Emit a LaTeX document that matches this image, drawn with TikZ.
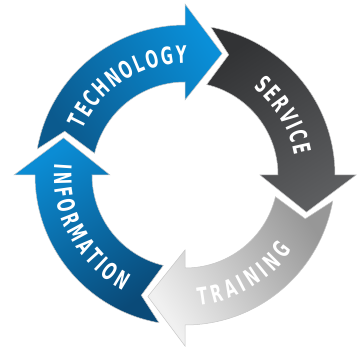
\documentclass[tikz,border=0pt]{standalone}
\usepackage{fontspec}
\usepackage{tikz}
\usetikzlibrary{decorations.text}
\newfontfamily\cyclefont{DejaVu Sans}[FakeStretch=0.62]

\definecolor{techtail}{HTML}{0B5A8E}
\definecolor{techhead}{HTML}{0A8FD8}
\definecolor{servtail}{HTML}{323335}
\definecolor{servhead}{HTML}{5C5D5F}
\definecolor{traintail}{HTML}{979797}
\definecolor{trainhead}{HTML}{F0F0F0}
\definecolor{infotail}{HTML}{0A4A78}
\definecolor{infohead}{HTML}{0B8CD4}

\begin{document}
\begin{tikzpicture}[
    cycle arrow/.style={draw=black!22, line width=0.5pt},
    arc label/.style={decorate, decoration={text along path, text color=white, text align={fit to path},
        text={|\cyclefont\bfseries\fontsize{24}{24}\selectfont|#1}}}
]

% --- PARAMETER ---
\def\Rout{150pt}    % Aussenrand Band
\def\Rin{93pt}      % Innenrand Band
\def\Rhead{171pt}   % Pfeilspitze aussen
\def\Rheadin{75pt}  % Pfeilspitze innen
\def\Rtip{127pt}    % Spitze
\def\Rnotch{128pt}  % Kerbe am Ende

\useasboundingbox (-185pt,-173pt) rectangle (179pt,175pt);

% --- TECHNOLOGY ---
\shade[cycle arrow, top color=techhead, bottom color=techtail, shading angle=-57]
    (170:\Rout) arc[start angle=170, end angle=90, radius=\Rout] -- (90:\Rhead) -- (73:\Rtip)
    -- (90:\Rheadin) -- (90:\Rin) arc[start angle=90, end angle=166.5, radius=\Rin] -- (160:\Rnotch) -- cycle;
\path[arc label=TECHNOLOGY] (156:112pt) arc[start angle=156, end angle=89, radius=112pt];

% --- SERVICE ---
\shade[cycle arrow, top color=servhead, bottom color=servtail, shading angle=-147]
    (80:\Rout) arc[start angle=80, end angle=0, radius=\Rout] -- (0:\Rhead) -- (-17:\Rtip)
    -- (0:\Rheadin) -- (0:\Rin) arc[start angle=0, end angle=76.5, radius=\Rin] -- (70:\Rnotch) -- cycle;
\path[arc label=SERVICE] (52:111pt) arc[start angle=52, end angle=10, radius=111pt];

% --- TRAINING ---
\shade[cycle arrow, top color=trainhead, bottom color=traintail, shading angle=123]
    (-10:\Rout) arc[start angle=-10, end angle=-90, radius=\Rout] -- (-90:\Rhead) -- (-107:\Rtip)
    -- (-90:\Rheadin) -- (-90:\Rin) arc[start angle=-90, end angle=-13.5, radius=\Rin] -- (-20:\Rnotch) -- cycle;
\path[arc label=TRAINING] (-84:131pt) arc[start angle=-84, end angle=-35, radius=131pt];

% --- INFORMATION ---
\shade[cycle arrow, top color=infohead, bottom color=infotail, shading angle=33]
    (260:\Rout) arc[start angle=260, end angle=180, radius=\Rout] -- (180:\Rhead) -- (163:\Rtip)
    -- (180:\Rheadin) -- (180:\Rin) arc[start angle=180, end angle=256.5, radius=\Rin] -- (250:\Rnotch) -- cycle;
\path[arc label=INFORMATION] (175:131pt) arc[start angle=175, end angle=242, radius=131pt];

\end{tikzpicture}
\end{document}
